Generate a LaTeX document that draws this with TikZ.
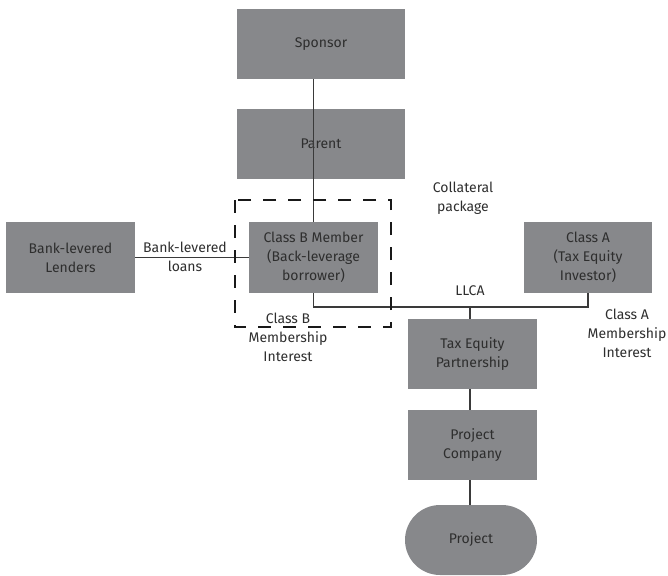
\documentclass[tikz,border=0pt]{standalone}
\usepackage{fontspec}
\setmainfont{Fira Sans}
\definecolor{boxgray}{HTML}{87888B}
\definecolor{txtgray}{HTML}{2E2E2E}
\definecolor{linegray}{HTML}{3A3A3A}
\begin{document}
\begin{tikzpicture}[x=1pt,y=-1pt,every node/.style={font=\fontsize{14}{19}\selectfont, text=txtgray},
  entity/.style={fill=boxgray, align=center, minimum width=129pt, minimum height=71pt, inner sep=0pt},
  link/.style={draw=linegray, line width=1.8pt}]
\useasboundingbox (0,0) rectangle (668,575);
\node[entity, minimum width=168pt, minimum height=70pt] (sponsor) at (321,44) {Sponsor};
\node[entity, minimum width=168pt, minimum height=70pt] (parent) at (321,144) {Parent};
\node[entity] (lenders) at (70.5,257.5) {Bank-levered\\Lenders};
\node[entity] (classb) at (313.5,257.5) {Class B Member\\(Back-leverage\\borrower)};
\node[entity, minimum width=128pt] (classa) at (588,257.5) {Class A\\(Tax Equity\\Investor)};
\node[entity, minimum height=70pt] (tep) at (472.5,354) {Tax Equity\\Partnership};
\node[entity, minimum height=70pt] (pc) at (472.5,445) {Project\\Company};
\node[entity, minimum width=132pt, minimum height=70pt, rounded corners=35pt] (project) at (471,540) {Project};

\node[align=center] (loans) at (185,256.5) {Bank-levered\\loans};
\node[align=center] (collat) at (463,198) {Collateral\\package};
\node (llca) at (470,291) {LLCA};
\node[align=center] (bint) at (288,337) {Class B\\Membership\\Interest};
\node[align=center] (aint) at (627,333) {Class A\\Membership\\Interest};

\coordinate (bus) at (470,307);

\draw[link] (sponsor.south -| classb.north) -- (parent.south -| classb.north);
\draw[link] (parent.south -| classb.north) -- (classb.north);
\draw[link] (lenders) -- (classb);
\draw[link] (classb.south) |- (bus) -| (classa.south);
\draw[link] (bus) -- (tep.north -| bus);
\draw[link] (pc.north -| bus) -- (tep.south -| bus);
\draw[link] (pc.south -| bus) -- (project.north -| bus);

\draw[black!90, line width=2.8pt, dash pattern=on 13pt off 12pt] (235,200) rectangle (391,327);
\end{tikzpicture}
\end{document}
